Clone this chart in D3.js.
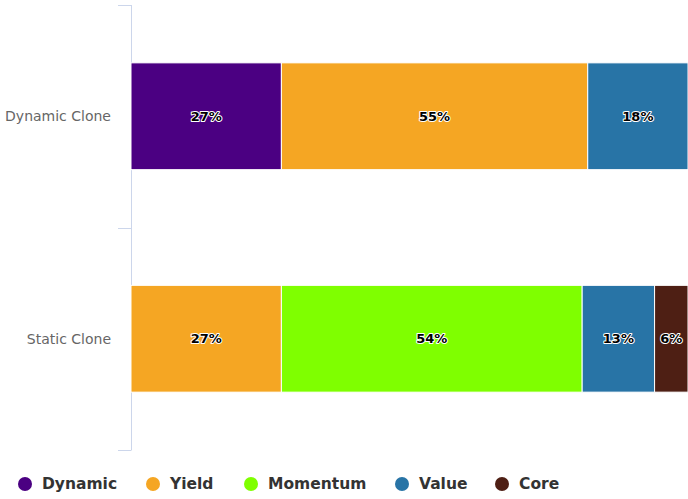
<!DOCTYPE html>
<html>
<head>
<meta charset="utf-8">
<script src="https://cdn.jsdelivr.net/npm/d3@7"></script>
<style>
  body { margin: 0; background: #fff; }
  text { font-family: "DejaVu Sans", Verdana, sans-serif; }
</style>
</head>
<body>
<svg width="688" height="499"></svg>
<script>
const categories = ["Dynamic Clone", "Static Clone"];
const seriesNames = ["Dynamic", "Yield", "Momentum", "Value", "Core"];
const seriesColors = ["#4b0082", "#f5a623", "#7fff00", "#2874a6", "#4e1f14"];
// percent per series, one entry per category
const dynamicVals = [27, 0];
const yieldVals = [55, 27];
const momentumVals = [0, 54];
const valueVals = [18, 13];
const coreVals = [0, 6];

const svg = d3.select("svg"),
    margin = { top: 5, right: 0, bottom: 49, left: 131 },
    width = +svg.attr("width") - margin.left - margin.right,
    height = +svg.attr("height") - margin.top - margin.bottom,
    g = svg.append("g").attr("transform", `translate(${margin.left},${margin.top})`);

const seriesVals = [dynamicVals, yieldVals, momentumVals, valueVals, coreVals];
const table = categories.map((c, i) => {
    const row = { category: c };
    seriesNames.forEach((s, j) => row[s] = seriesVals[j][i]);
    return row;
});
const stacked = d3.stack().keys(seriesNames)(table);

const xScale = d3.scaleLinear().domain([0, 100]).range([0, width]);
const yScale = d3.scaleBand().domain(categories).range([0, height]).paddingInner(0.52).paddingOuter(0.26);
const color = d3.scaleOrdinal().domain(seriesNames).range(seriesColors);

// category axis with ticks at band boundaries
const axis = g.append("g");
axis.append("line")
    .attr("x1", 0.5).attr("x2", 0.5)
    .attr("y1", 0).attr("y2", height)
    .attr("stroke", "#ccd6eb");
const bounds = d3.range(categories.length + 1).map(i => i * height / categories.length);
axis.selectAll(".tick-mark")
    .data(bounds)
    .enter().append("line")
    .attr("x1", -13).attr("x2", 0.5)
    .attr("y1", d => Math.round(d) + 0.5).attr("y2", d => Math.round(d) + 0.5)
    .attr("stroke", "#ccd6eb");
axis.selectAll(".cat")
    .data(categories)
    .enter().append("text")
    .attr("x", -20)
    .attr("y", d => yScale(d) + yScale.bandwidth() / 2)
    .attr("dy", "0.35em")
    .attr("text-anchor", "end")
    .attr("fill", "#666")
    .attr("font-size", "14px")
    .text(d => d);

const layers = g.selectAll(".layer")
    .data(stacked)
    .enter().append("g")
    .attr("fill", d => color(d.key));

layers.selectAll("rect")
    .data(d => d.filter(p => p[1] - p[0] > 0))
    .enter().append("rect")
    .attr("x", d => xScale(d[0]))
    .attr("y", d => yScale(d.data.category))
    .attr("width", d => xScale(d[1]) - xScale(d[0]))
    .attr("height", yScale.bandwidth())
    .attr("stroke", "#fff")
    .attr("stroke-width", 1);

layers.selectAll("text")
    .data(d => d.filter(p => p[1] - p[0] > 0))
    .enter().append("text")
    .attr("x", d => (xScale(d[0]) + xScale(d[1])) / 2)
    .attr("y", d => yScale(d.data.category) + yScale.bandwidth() / 2)
    .attr("dy", "0.35em")
    .attr("text-anchor", "middle")
    .attr("font-size", "13px")
    .attr("font-weight", "bold")
    .attr("fill", "#000")
    .attr("stroke", "#fff")
    .attr("stroke-width", 2)
    .attr("stroke-linejoin", "round")
    .attr("paint-order", "stroke")
    .text(d => Math.round(d[1] - d[0]) + "%");

// legend
const legendX = [25, 153, 251, 402, 502];
const legend = svg.append("g").attr("transform", "translate(0,484)");
const items = legend.selectAll("g")
    .data(seriesNames)
    .enter().append("g")
    .attr("transform", (d, i) => `translate(${legendX[i]},0)`);
items.append("circle")
    .attr("r", 7)
    .attr("fill", d => color(d));
items.append("text")
    .attr("x", 17)
    .attr("dy", "0.35em")
    .attr("font-size", "15.5px")
    .attr("font-weight", "bold")
    .attr("fill", "#333")
    .text(d => d);
</script>
</body>
</html>
